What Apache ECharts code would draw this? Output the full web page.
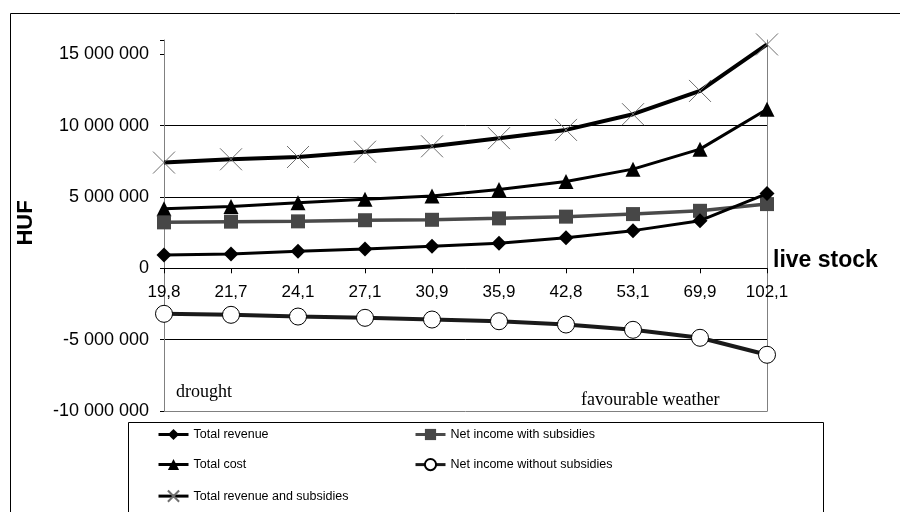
<!DOCTYPE html>
<html>
<head>
<meta charset="utf-8">
<script src="https://cdn.jsdelivr.net/npm/echarts@6/dist/echarts.min.js"></script>
<style>html,body{margin:0;padding:0;background:#fff;}#c{width:900px;height:512px;}</style>
</head>
<body>
<div id="c"></div>
<script>
const categories = ['19,8','21,7','24,1','27,1','30,9','35,9','42,8','53,1','69,9','102,1'];
const totalRevenue = [940000, 1000000, 1190000, 1360000, 1550000, 1760000, 2140000, 2640000, 3340000, 5240000];
const netIncomeWithSubsidies = [3220000, 3270000, 3290000, 3370000, 3400000, 3500000, 3620000, 3800000, 4030000, 4500000];
const totalCost = [4170000, 4330000, 4600000, 4840000, 5060000, 5530000, 6090000, 6950000, 8350000, 11150000];
const netIncomeWithoutSubsidies = [-3190000, -3260000, -3380000, -3470000, -3590000, -3710000, -3940000, -4310000, -4870000, -6060000];
const totalRevenueAndSubsidies = [7410000, 7640000, 7800000, 8170000, 8550000, 9120000, 9700000, 10800000, 12430000, 15690000];
const seriesNames = ['Total revenue','Net income with subsidies','Total cost','Net income without subsidies','Total revenue and subsidies'];

const SANS = "'Liberation Sans', Arial, sans-serif";
const SERIF = "'Liberation Serif', 'Times New Roman', serif";
function fmt(v){
  if (v % 5000000 !== 0) return '';
  const s = Math.abs(v).toString().replace(/\B(?=(\d{3})+(?!\d))/g, ' ');
  return (v < 0 ? '-' : '') + s;
}
const chart = echarts.init(document.getElementById('c'), null, {renderer:'canvas'});
const T = 'rgba(0,0,0,0)';
const Y_MIN = -10000000, Y_MAX = 16000000;
const gridTop = 40, gridBottom = 101, gridH = 512 - gridTop - gridBottom;
// place the category axis on the zero line of the value axis
const zeroOffset = -gridH * (0 - Y_MIN) / (Y_MAX - Y_MIN);
const legendBase = {
  orient: 'vertical', top: 428, padding: 0, itemGap: 17, itemWidth: 30, itemHeight: 14,
  textStyle: {color: '#000', fontFamily: SANS, fontSize: 12.5},
  lineStyle: {width: 3}
};
chart.setOption({
  animation: false,
  backgroundColor: '#fff',
  grid: {left: 164, right: 133, top: gridTop, bottom: gridBottom, containLabel: false},
  xAxis: [{
    type: 'category', data: categories, boundaryGap: false, position: 'bottom', offset: zeroOffset,
    axisLine: {onZero: false, lineStyle: {color: '#000', width: 1}},
    axisTick: {show: true, length: 5, lineStyle: {color: '#000'}},
    axisLabel: {color: '#000', fontFamily: SANS, fontSize: 17, margin: 16},
    splitLine: {show: false}
  },{
    type: 'category', data: categories, boundaryGap: false, position: 'bottom',
    axisLine: {onZero: false, lineStyle: {color: '#808080', width: 1}},
    axisTick: {show: false}, axisLabel: {show: false}, splitLine: {show: false}
  }],
  yAxis: [{
    type: 'value', min: Y_MIN, max: Y_MAX, interval: 5000000,
    axisLine: {show: true, lineStyle: {color: '#808080', width: 1}},
    axisTick: {show: true, length: 4, lineStyle: {color: '#000'}},
    axisLabel: {color: '#000', fontFamily: SANS, fontSize: 18, margin: 15, formatter: fmt},
    splitLine: {show: true, lineStyle: {color: [T, '#000', '#000', '#000', '#000', T, T], width: 1}}
  },{
    type: 'value', min: Y_MIN, max: Y_MAX, interval: 5000000, position: 'right',
    axisLine: {show: true, lineStyle: {color: '#808080', width: 1}},
    axisTick: {show: false}, axisLabel: {show: false}, splitLine: {show: false}
  }],
  legend: [
    Object.assign({}, legendBase, {left: 157, data: [seriesNames[0], seriesNames[2], seriesNames[4]]}),
    Object.assign({}, legendBase, {left: 414, data: [seriesNames[1], seriesNames[3]]})
  ],
  graphic: [
    {type: 'rect', left: 8, top: 11, shape: {width: 900, height: 520}, style: {fill: 'none', stroke: '#000', lineWidth: 1}, z: -10, silent: true},
    {type: 'rect', left: 126, top: 420, shape: {width: 695, height: 110}, style: {fill: 'none', stroke: '#000', lineWidth: 1}, z: -5, silent: true},
    {type: 'text', left: 773, top: 249, style: {text: 'live stock', font: "bold 23px " + SANS, fill: '#000'}},
    {type: 'text', x: 26, y: 223, rotation: Math.PI/2, style: {text: 'HUF', font: "bold 22px " + SANS, fill: '#000', align: 'center', verticalAlign: 'middle'}},
    {type: 'text', left: 176, top: 383, style: {text: 'drought', font: "18px " + SERIF, fill: '#000'}},
    {type: 'text', left: 581, top: 391, style: {text: 'favourable weather', font: "18px " + SERIF, fill: '#000'}}
  ],
  series: [
    {name: seriesNames[4], type: 'line', data: totalRevenueAndSubsidies, symbol: 'path://M0,0L10,10M10,0L0,10', symbolSize: 22,
     lineStyle: {color: '#000', width: 4}, itemStyle: {color: 'none', borderColor: '#707070', borderWidth: 1}, z: 3},
    {name: seriesNames[2], type: 'line', data: totalCost, symbol: 'triangle', symbolSize: 15,
     lineStyle: {color: '#000', width: 3}, itemStyle: {color: '#000'}, z: 4},
    {name: seriesNames[1], type: 'line', data: netIncomeWithSubsidies, symbol: 'rect', symbolSize: 14,
     lineStyle: {color: '#4a4a4a', width: 3.5}, itemStyle: {color: '#474747'}, z: 5},
    {name: seriesNames[0], type: 'line', data: totalRevenue, symbol: 'diamond', symbolSize: 15,
     lineStyle: {color: '#000', width: 3}, itemStyle: {color: '#000'}, z: 6},
    {name: seriesNames[3], type: 'line', data: netIncomeWithoutSubsidies, symbol: 'circle', symbolSize: 17,
     lineStyle: {color: '#1a1a1a', width: 4}, itemStyle: {color: '#fff', borderColor: '#000', borderWidth: 1}, z: 7}
  ]
});
</script>
</body>
</html>
